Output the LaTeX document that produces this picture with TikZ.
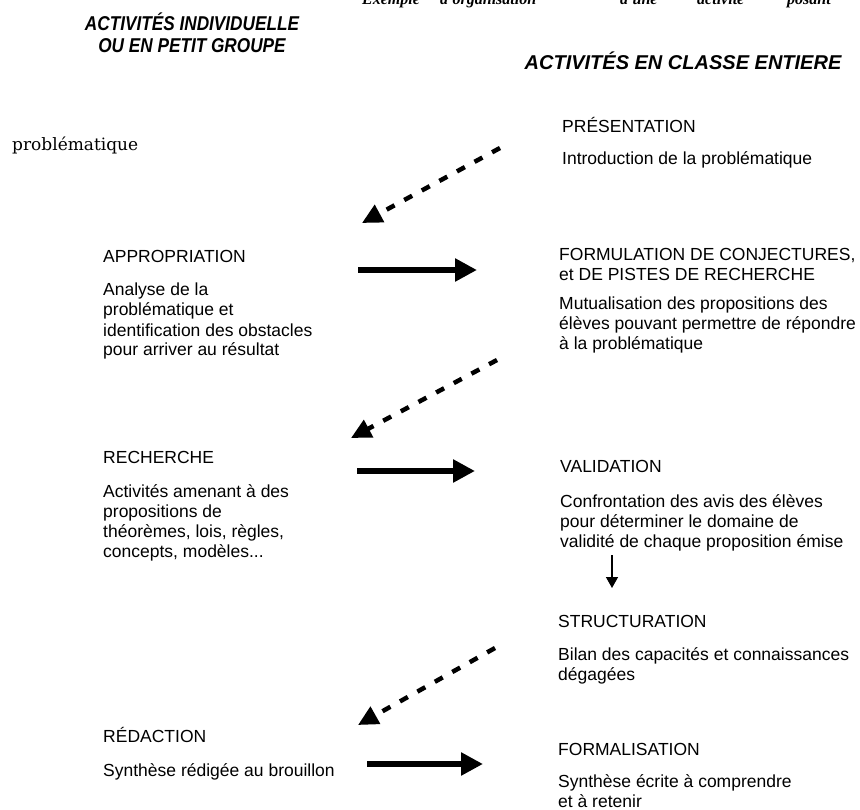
\documentclass[tikz,border=0pt]{standalone}
\usepackage{fontspec}
\setmainfont{Liberation Sans}
\newfontfamily\serifnote{Liberation Serif}
\newfontfamily\serifwide{DejaVu Serif}
\usetikzlibrary{arrows.meta}
\newcommand{\narrowtext}[1]{\scalebox{0.86}[1]{#1}}
\tikzset{colhead/.style={font=\bfseries\itshape\fontsize{20}{22}\selectfont,
         inner sep=0pt, anchor=base},
         steptitle/.style={font=\fontsize{17.5}{20}\selectfont,
         inner sep=0pt, anchor=base west, align=left},
         steptext/.style={steptitle},
         pass/.style={line width=6pt, -{Triangle[length=22pt,width=22pt]}},
         goback/.style={line width=4.5pt, dash pattern=on 9pt off 11pt,
         -{Triangle[length=20pt,width=19pt]}}}

\begin{document}
\begin{tikzpicture}[x=1pt,y=-1pt]
  \useasboundingbox (0,0) rectangle (860,810);
  % title line, cut at the top of the page
  \begin{scope}
    \clip (0,0) rectangle (860,11);
    \foreach \w/\x in {Exemple/362,d'organisation/440,d'une/620,activité/697,posant/787}
      \node[font=\serifnote\bfseries\itshape\fontsize{16}{18}\selectfont,
            inner sep=0pt, anchor=base west] at (\x,5) {\w};
  \end{scope}
  \node[colhead] (indiv) at (192,31) {\narrowtext{ACTIVITÉS INDIVIDUELLE}};
  \node[colhead] (groupe) at (192,53) {\narrowtext{OU EN PETIT GROUPE}};
  \node[colhead] (classe) at (683,70) {ACTIVITÉS EN CLASSE ENTIERE};
  \node[font=\serifwide\fontsize{17}{20}\selectfont, inner sep=0pt,
        anchor=base west] (probleme) at (12,151) {problématique};

  % multi-line texts sit on the baseline of their last line
  \node[steptitle] (presentation) at (562,133) {PRÉSENTATION};
  \node[steptext] (introduction) at (562,165) {Introduction de la problématique};
  \node[steptitle] (appropriation) at (103,263) {APPROPRIATION};
  \node[steptext] (analyse) at (103,356) {Analyse de la\\problématique et\\identification des obstacles\\pour arriver au résultat};
  \node[steptitle] (formulation) at (559,281) {FORMULATION DE CONJECTURES,\\et DE PISTES DE RECHERCHE};
  \node[steptext] (mutualisation) at (559,350) {Mutualisation des propositions des\\élèves pouvant permettre de répondre\\à la problématique};
  \node[steptitle] (recherche) at (103,463) {RECHERCHE};
  \node[steptext] (activites) at (103,557) {Activités amenant à des\\propositions de\\théorèmes, lois, règles,\\concepts, modèles...};
  \node[steptitle] (validation) at (560,472) {VALIDATION};
  \node[steptext] (confrontation) at (560,547) {Confrontation des avis des élèves\\pour déterminer le domaine de\\validité de chaque proposition émise};
  \node[steptitle] (structuration) at (558,627) {STRUCTURATION};
  \node[steptext] (bilan) at (558,680) {Bilan des capacités et connaissances\\dégagées};
  \node[steptitle] (redaction) at (103,742) {RÉDACTION};
  \node[steptext] (brouillon) at (103,776) {Synthèse rédigée au brouillon};
  \node[steptitle] (formalisation) at (558,755) {FORMALISATION};
  \node[steptext] (synthese) at (558,807) {Synthèse écrite à comprendre\\et à retenir};

  \coordinate (p1) at (358,270); \coordinate (q1) at (477,270);
  \coordinate (p2) at (357,471); \coordinate (q2) at (475,471);
  \coordinate (p3) at (367,764); \coordinate (q3) at (483,764);
  \draw[pass] (p1) -- (q1);
  \draw[pass] (p2) -- (q2);
  \draw[pass] (p3) -- (q3);

  \coordinate (r1) at (500,148); \coordinate (s1) at (362,223);
  \coordinate (r2) at (497,360); \coordinate (s2) at (351,438);
  \coordinate (r3) at (495,648); \coordinate (s3) at (358,725);
  \draw[goback] (r1) -- (s1);
  \draw[goback] (r2) -- (s2);
  \draw[goback] (r3) -- (s3);

  \coordinate (v) at (612,555); \coordinate (w) at (612,588);
  \draw[line width=1.5pt, -{Triangle[length=11pt,width=12pt]}] (v) -- (w);
\end{tikzpicture}
\end{document}
